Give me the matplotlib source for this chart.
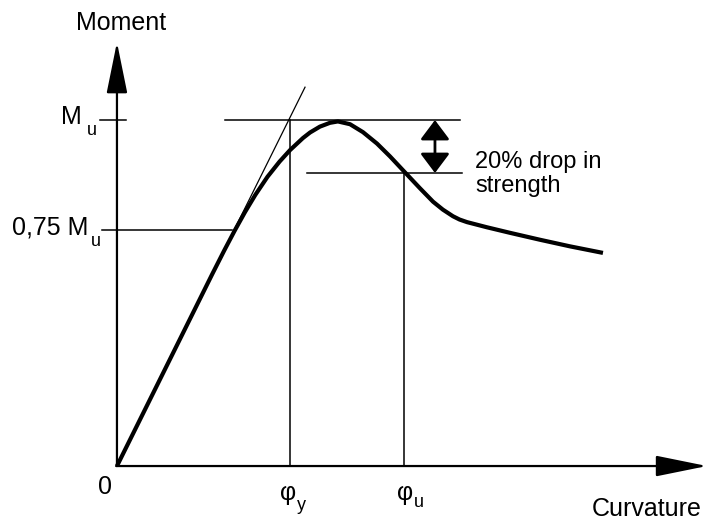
import matplotlib
matplotlib.use('Agg')
import matplotlib.pyplot as plt

plt.rcParams['font.family'] = ['Liberation Sans', 'DejaVu Sans']

# moment-curvature curve, curvature in units of phi_y, moment in units of M_u
curv = [0.0, 0.55, 0.62, 0.68, 0.74, 0.80, 0.87, 0.94, 1.000, 1.075, 1.116,
        1.173, 1.231, 1.277, 1.347, 1.422, 1.503, 1.578, 1.653, 1.751, 1.827,
        1.884, 1.942, 1.980, 2.023, 2.139, 2.272, 2.445, 2.618, 2.809]
moment = [0.0, 0.554, 0.623, 0.680, 0.734, 0.784, 0.836, 0.880, 0.913, 0.948, 0.964,
          0.981, 0.992, 0.996, 0.988, 0.965, 0.932, 0.895, 0.855, 0.803, 0.764,
          0.741, 0.722, 0.7125, 0.705, 0.690, 0.674, 0.654, 0.635, 0.616]

tangent_x = [0.0, 1.087]
tangent_y = [0.0, 1.095]

M_u = 1.0
M_75 = 0.682      # drawn position of 0,75 Mu
M_80 = 0.847      # strength after 20% drop
phi_y = 1.0
phi_u = 1.659

fig = plt.figure(figsize=(7.13, 5.2), dpi=100)
ax = fig.add_axes([0, 0, 1, 1])
ax.set_xlim(-0.676, 3.445)
ax.set_ylim(-0.156, 1.347)
ax.axis('off')

# axes with arrows
axis_arrow = dict(arrowstyle='-|>,head_length=32,head_width=6.5', color='black',
                  lw=1.6, shrinkA=0, shrinkB=0, mutation_scale=1)
ax.annotate('', xy=(0, 1.225), xytext=(0, 0), arrowprops=axis_arrow)
ax.annotate('', xy=(3.41, 0), xytext=(-0.005, 0), arrowprops=axis_arrow)

# tick for Mu
ax.plot([-0.098, 0.052], [M_u, M_u], color='black', lw=1.1)

# reference lines
ax.plot([-0.087, 0.665], [M_75, M_75], color='black', lw=1.1)
ax.plot([0.624, 1.983], [M_u, M_u], color='black', lw=1.1)
ax.plot([1.098, 1.994], [M_80, M_80], color='black', lw=1.1)
ax.plot([phi_y, phi_y], [0, M_u], color='black', lw=1.1)
ax.plot([phi_u, phi_u], [0, M_80], color='black', lw=1.1)

# initial stiffness tangent
ax.plot(tangent_x, tangent_y, color='black', lw=0.9)

# curve
ax.plot(curv, moment, color='black', lw=3.0, solid_capstyle='butt', solid_joinstyle='round')

# 20% drop arrow
ax.annotate('', xy=(1.838, M_u), xytext=(1.838, M_80),
            arrowprops=dict(arrowstyle='<|-|>,head_length=12,head_width=9', color='black',
                            lw=2.0, shrinkA=0, shrinkB=0, mutation_scale=1))

fs = 18
sub = 13
ax.text(0.023, 1.260, 'Moment', fontsize=fs, ha='center', va='baseline')
ax.text(-0.202, 0.988, 'M', fontsize=fs, ha='right', va='baseline')
ax.text(-0.172, 0.957, 'u', fontsize=sub, ha='left', va='baseline')
ax.text(-0.168, 0.668, '0,75 M', fontsize=fs, ha='right', va='baseline')
ax.text(-0.150, 0.636, 'u', fontsize=sub, ha='left', va='baseline')
ax.text(-0.069, -0.081, '0', fontsize=fs, ha='center', va='baseline')
ax.text(0.945, -0.098, 'φ', fontsize=fs, ha='left', va='baseline')
ax.text(1.040, -0.127, 'y', fontsize=sub, ha='left', va='baseline')
ax.text(1.621, -0.098, 'φ', fontsize=fs, ha='left', va='baseline')
ax.text(1.715, -0.118, 'u', fontsize=sub, ha='left', va='baseline')
ax.text(2.745, -0.145, 'Curvature', fontsize=fs, ha='left', va='baseline')
ax.text(2.069, 0.861, '20% drop in', fontsize=17, ha='left', va='baseline')
ax.text(2.069, 0.792, 'strength', fontsize=17, ha='left', va='baseline')

fig.savefig('out.png', dpi=100)
plt.close(fig)
